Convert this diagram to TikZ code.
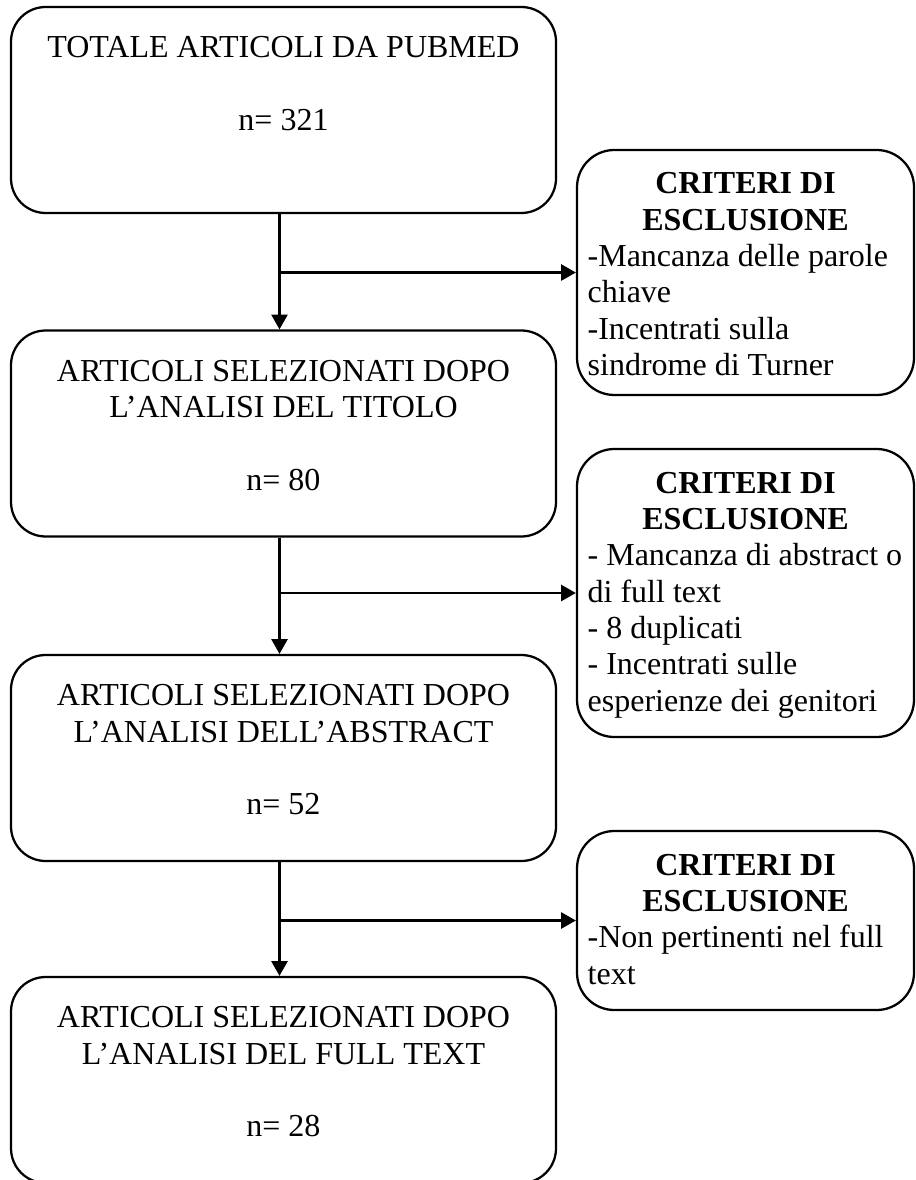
\documentclass[tikz,border=0pt]{standalone}
\usepackage{fontspec}
\setmainfont{Liberation Serif}
\usetikzlibrary{arrows.meta}
\newcommand{\mainbody}[1]{\parbox[c][154.5pt][t]{408.75pt}{\centering\rule{0pt}{38pt}#1}}
\newcommand{\critbody}[2]{\parbox[c][#1][t]{252.75pt}{\centering\bfseries\rule{0pt}{33pt}CRITERI DI\\ESCLUSIONE\par\raggedright\mdseries\leftskip=8pt #2\par}}
\tikzset{
  mainbox/.style={draw, line width=1.7pt, rounded corners=26pt, inner sep=0pt, fill=white},
  critbox/.style={draw, line width=1.7pt, rounded corners=28pt, inner sep=0pt, fill=white},
  arr/.style={line width=1.7pt, -{Triangle[length=11pt,width=12pt]}}
}
\begin{document}
\begin{tikzpicture}[x=0.75pt,y=-0.75pt]
\fontsize{24pt}{27.25pt}\selectfont
\useasboundingbox (0,0) rectangle (916,1180);
\fill[white] (0,0) rectangle (916,1180);

\node[mainbox] (b1) at (283.5,110) {\mainbody{TOTALE ARTICOLI DA PUBMED\\[27.25pt] n= 321}};
\node[mainbox] (b2) at (283.5,433.5) {\mainbody{ARTICOLI SELEZIONATI DOPO\\ L’ANALISI DEL TITOLO\\[27.25pt] n= 80}};
\node[mainbox] (b3) at (283.5,758) {\mainbody{ARTICOLI SELEZIONATI DOPO\\ L’ANALISI DELL’ABSTRACT\\[27.25pt] n= 52}};
\node[mainbox] (b4) at (283.5,1080) {\mainbody{ARTICOLI SELEZIONATI DOPO\\ L’ANALISI DEL FULL TEXT\\[27.25pt] n= 28}};

\node[critbox] (r1) at (745.5,272.5) {\critbody{183.75pt}{-Mancanza delle parole\\ chiave\\ -Incentrati sulla\\ sindrome di Turner}};
\node[critbox] (r2) at (745.5,593) {\critbody{216pt}{- Mancanza di abstract o\\ di full text\\ - 8 duplicati\\ - Incentrati sulle\\ esperienze dei genitori}};
\node[critbox] (r3) at (745.5,920.5) {\critbody{134.25pt}{-Non pertinenti nel full\\ text}};

\draw[arr] ([xshift=-3pt]b1.south) -- ([xshift=-3pt]b2.north);
\draw[arr] ([xshift=-3pt]b2.south) -- ([xshift=-3pt]b3.north);
\draw[arr] ([xshift=-3pt]b3.south) -- ([xshift=-3pt]b4.north);
\draw[arr] ([xshift=-3pt]b1.south |- r1.west) -- (r1.west);
\draw[arr] ([xshift=-3pt]b2.south |- r2.west) -- (r2.west);
\draw[arr] ([xshift=-3pt]b3.south |- r3.west) -- (r3.west);
\end{tikzpicture}
\end{document}
